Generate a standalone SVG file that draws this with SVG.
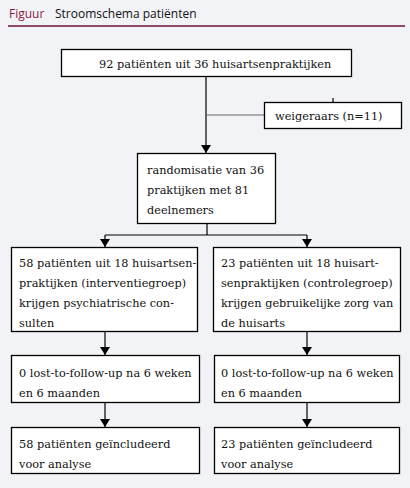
<svg xmlns="http://www.w3.org/2000/svg" width="410" height="488" viewBox="0 0 410 488">
<style>
.box{fill:#ffffff;stroke:#000000;stroke-width:1.3}
.t{font-family:"DejaVu Serif","Liberation Serif",serif;font-size:11.3px;fill:#111111}
.ln{stroke:#000000;stroke-width:1.2;fill:none}
.hd{font-family:"Open Sans","DejaVu Sans",sans-serif;font-size:12px}
</style>
<defs>
<marker id="ah" markerWidth="8" markerHeight="10" refX="8" refY="5" orient="auto" markerUnits="userSpaceOnUse">
<path d="M0,0 L8,5 L0,10 Z" fill="#000000"/>
</marker>
</defs>
<rect x="0" y="0" width="410" height="488" fill="#f2f3f6"/>
<g id="header">
<text x="9" y="18" class="hd" fill="#8a1a45">Figuur</text>
<text x="55" y="18" class="hd" fill="#111111">Stroomschema patiënten</text>
<line x1="8" y1="26" x2="405" y2="26" stroke="#6e1438" stroke-width="1.3"/>
</g>
<g id="connectors">
<line class="ln" x1="206" y1="76" x2="206" y2="153" marker-end="url(#ah)"/>
<line x1="206" y1="115" x2="264" y2="115" stroke="#666666" stroke-width="1.2"/>
<line class="ln" x1="333" y1="98" x2="333" y2="102"/>
<line class="ln" x1="207" y1="223" x2="207" y2="235"/>
<line class="ln" x1="105" y1="235" x2="307" y2="235"/>
<line class="ln" x1="105" y1="235" x2="105" y2="247" marker-end="url(#ah)"/>
<line class="ln" x1="307" y1="235" x2="307" y2="247" marker-end="url(#ah)"/>
<line class="ln" x1="105" y1="331" x2="105" y2="355" marker-end="url(#ah)"/>
<line class="ln" x1="307" y1="331" x2="307" y2="355" marker-end="url(#ah)"/>
<line class="ln" x1="105" y1="402" x2="105" y2="427" marker-end="url(#ah)"/>
<line class="ln" x1="307" y1="402" x2="307" y2="427" marker-end="url(#ah)"/>
</g>
<g id="n-top">
<rect class="box" x="61.5" y="49.5" width="290" height="27"/>
<text class="t" x="99" y="68">92 patiënten uit 36 huisartsenpraktijken</text>
</g>
<g id="n-weigeraars">
<rect class="box" x="264.5" y="102.5" width="137" height="26"/>
<text class="t" x="275" y="120">weigeraars (n=11)</text>
</g>
<g id="n-random">
<rect class="box" x="137.5" y="153.5" width="138" height="70"/>
<text class="t" x="147" y="174">randomisatie van 36</text>
<text class="t" x="147" y="194">praktijken met 81</text>
<text class="t" x="147" y="214">deelnemers</text>
</g>
<g id="n-interventie">
<rect class="box" x="11.5" y="247.5" width="186" height="84"/>
<text class="t" x="19" y="267">58 patiënten uit 18 huisartsen-</text>
<text class="t" x="19" y="287">praktijken (interventiegroep)</text>
<text class="t" x="19" y="307">krijgen psychiatrische con-</text>
<text class="t" x="19" y="327">sulten</text>
</g>
<g id="n-controle">
<rect class="box" x="213.5" y="247.5" width="187" height="84"/>
<text class="t" x="221" y="267">23 patiënten uit 18 huisart-</text>
<text class="t" x="221" y="287">senpraktijken (controlegroep)</text>
<text class="t" x="221" y="307">krijgen gebruikelijke zorg van</text>
<text class="t" x="221" y="327">de huisarts</text>
</g>
<g id="n-lost-left">
<rect class="box" x="11.5" y="355.5" width="188" height="47"/>
<text class="t" x="19" y="377">0 lost-to-follow-up na 6 weken</text>
<text class="t" x="19" y="397">en 6 maanden</text>
</g>
<g id="n-lost-right">
<rect class="box" x="214.5" y="355.5" width="185" height="47"/>
<text class="t" x="221" y="377">0 lost-to-follow-up na 6 weken</text>
<text class="t" x="221" y="397">en 6 maanden</text>
</g>
<g id="n-incl-left">
<rect class="box" x="11.5" y="427.5" width="188" height="46"/>
<text class="t" x="19" y="448">58 patiënten geïncludeerd</text>
<text class="t" x="19" y="468">voor analyse</text>
</g>
<g id="n-incl-right">
<rect class="box" x="214.5" y="427.5" width="185" height="46"/>
<text class="t" x="221" y="448">23 patiënten geïncludeerd</text>
<text class="t" x="221" y="468">voor analyse</text>
</g>
</svg>
